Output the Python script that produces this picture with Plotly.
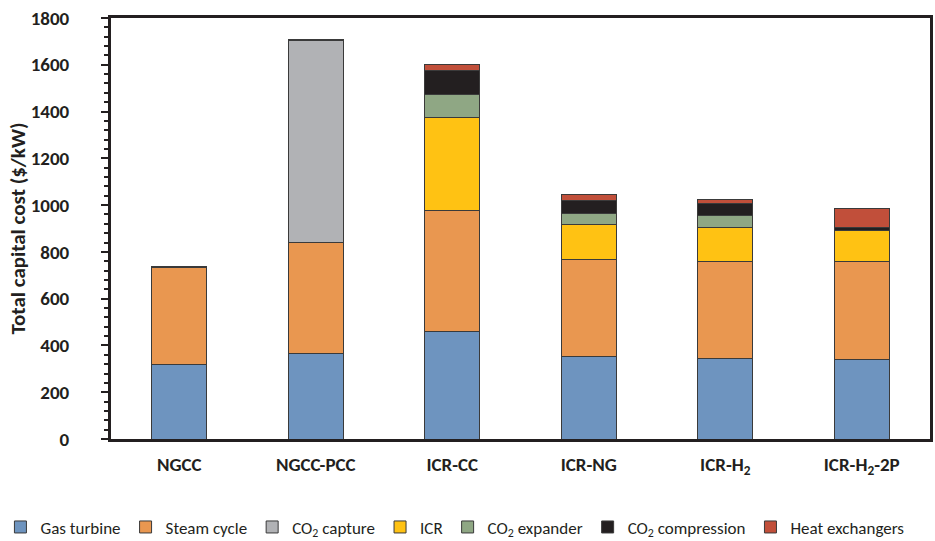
import plotly.graph_objects as go

categories = ["NGCC", "NGCC-PCC", "ICR-CC", "ICR-NG", "ICR-H<sub>2</sub>", "ICR-H<sub>2</sub>-2P"]
gas_turbine = [320, 367, 459, 352, 346, 342]
steam_cycle = [412, 472, 520, 416, 412, 416]
co2_capture = [None, 864, None, None, None, None]
icr = [None, None, 395, 150, 145, 135]
co2_expander = [None, None, 100, 47, 52, None]
co2_compression = [6, 5, 101, 53, 51, 12]
heat_exchangers = [None, None, 25, 29, 20, 80]

series = [
    ("Gas turbine", gas_turbine, "#6e94bf"),
    ("Steam cycle", steam_cycle, "#e99750"),
    ("CO<sub>2</sub> capture", co2_capture, "#b1b2b5"),
    ("ICR", icr, "#ffc213"),
    ("CO<sub>2</sub> expander", co2_expander, "#8fa784"),
    ("CO<sub>2</sub> compression", co2_compression, "#231f20"),
    ("Heat exchangers", heat_exchangers, "#c14f3a"),
]

FONT = "Carlito, Lato, 'Open Sans', sans-serif"
fig = go.Figure()
for name, vals, col in series:
    fig.add_trace(go.Bar(
        x=categories, y=vals, name=name, width=0.4,
        marker=dict(color=col, line=dict(color="#3a3a3a", width=1)),
    ))

fig.update_layout(
    barmode="stack",
    width=935, height=541,
    margin=dict(l=111, r=5, t=18, b=102, autoexpand=False),
    plot_bgcolor="white", paper_bgcolor="white",
    font=dict(family=FONT, color="#231f20"),
    showlegend=True,
    legend=dict(
        orientation="h", xref="paper", yref="paper",
        x=-0.135, xanchor="left", y=-0.21, yanchor="middle",
        font=dict(size=17, family=FONT, color="#231f20"),
        itemwidth=30, tracegroupgap=0, traceorder="normal",
    ),
)
fig.update_yaxes(
    range=[0, 1800], dtick=200, showgrid=False, zeroline=False, automargin=False,
    showline=True, mirror=True, linewidth=3, linecolor="#231f20",
    ticks="outside", ticklen=7, tickwidth=2, tickcolor="#231f20",
    ticklabelstandoff=28,
    minor=dict(dtick=40, ticks="outside", ticklen=4, tickwidth=2, tickcolor="#231f20"),
    tickfont=dict(size=19, family=FONT, weight="bold", color="#231f20"),
    title=dict(text="Total capital cost ($/kW)", standoff=0,
               font=dict(size=21, family=FONT, weight="bold", color="#231f20")),
)
fig.update_xaxes(
    showgrid=False, showline=True, mirror=True, linewidth=3, linecolor="#231f20",
    ticks="", ticklabelstandoff=6, automargin=False,
    tickfont=dict(size=19, family=FONT, weight="bold", color="#231f20"),
)
fig.write_html("out.html", config={"displayModeBar": False},
               post_script="document.body.style.margin='0';")
